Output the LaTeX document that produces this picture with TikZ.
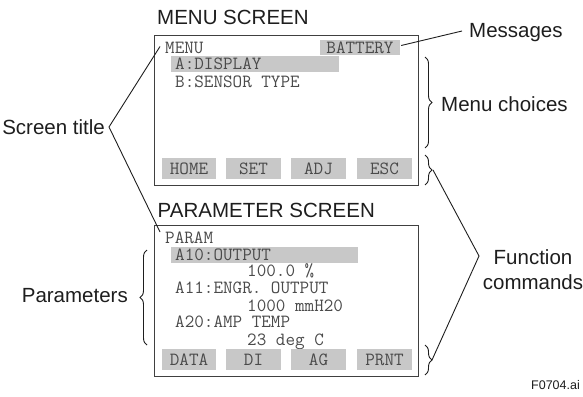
\documentclass[tikz,border=0pt]{standalone}
\usepackage{fontspec}
\setmainfont{Liberation Sans}
\usetikzlibrary{decorations.pathreplacing}
\definecolor{keygray}{HTML}{C8C8C8}
\definecolor{lcdtext}{HTML}{4A4A4A}
\definecolor{ink}{HTML}{1E1E1E}
\begin{document}
\begin{tikzpicture}[x=1pt,y=-1pt,
  lbl/.style={font=\fontsize{20.5}{25}\selectfont, text=ink, inner sep=0pt, text height=14.7pt, text depth=0pt},
  lcdfont/.style={font=\ttfamily\fontsize{18.6}{20}\selectfont, text=lcdtext, text height=11pt, text depth=0pt},
  lcd/.style={lcdfont, inner sep=0pt, anchor=west},
  keybox/.style={lcdfont, fill=keygray, minimum width=54.5pt, minimum height=21pt, inner sep=0pt},
  hilite/.style={lcdfont, fill=keygray, inner xsep=4pt, inner ysep=0pt, minimum height=16pt,
    align=left, anchor=north west},
  screen/.style={draw=ink!85, line width=1.3pt, inner sep=0pt, anchor=north west},
  conn/.style={draw=ink, line width=0.9pt},
  brc/.style={decorate, decoration={brace, amplitude=7pt}, line width=0.9pt, draw=ink}]
\useasboundingbox (0,0) rectangle (583,396);

% ---------- MENU SCREEN ----------
\node[lbl, anchor=west] (menutitle) at (157,17) {MENU SCREEN};
\node[screen, minimum width=264pt, minimum height=150pt] (menuscr) at (154,35) {};
\node[lcdfont, fill=keygray, minimum width=80pt, minimum height=15pt, inner sep=0pt]
      (battery) at (360,47.5) {BATTERY};
\node[lcd] (mmenu) at (165,47.5) {MENU};
\node[hilite, text width=160pt] (mA) at (171,56) {A:DISPLAY};
\node[lcd] (mB) at (175,82) {B:SENSOR TYPE};
\node[keybox] (khome) at (189,168.5) {HOME};
\node[keybox] (kset) at (253.5,168.5) {SET};
\node[keybox] (kadj) at (318.5,168.5) {ADJ};
\node[keybox] (kesc) at (384.5,168.5) {ESC};

% ---------- PARAMETER SCREEN ----------
\node[lbl, anchor=west] (paramtitle) at (157.5,210) {PARAMETER SCREEN};
\node[screen, minimum width=264pt, minimum height=151pt] (paramscr) at (154,225) {};
\node[lcd] (pparam) at (165,238) {PARAM};
\node[hilite, text width=179pt] (pA10) at (171,247) {A10:OUTPUT};
\node[lcd] (pA10v) at (247,271) {100.0 \%};
\node[lcd] (pA11) at (175,288) {A11:ENGR. OUTPUT};
\node[lcd] (pA11v) at (247,306) {1000 mmH20};
\node[lcd] (pA20) at (175,322) {A20:AMP TEMP};
\node[lcd] (pA20v) at (247,340) {23 deg C};
\node[keybox] (kdata) at (189,359.5) {DATA};
\node[keybox] (kdi) at (253.5,359.5) {DI};
\node[keybox] (kag) at (318.5,359.5) {AG};
\node[keybox] (kprnt) at (384.5,359.5) {PRNT};

% ---------- labels ----------
\node[lbl, anchor=east] (stitle) at (105,127) {Screen title};
\node[lbl, anchor=east] (params) at (128,295) {Parameters};
\node[lbl, anchor=west] (msgs) at (469,30) {Messages};
\node[lbl, anchor=west] (mchoice) at (441,104) {Menu choices};
\node[font=\fontsize{20.5}{25}\selectfont, text=ink, inner sep=0pt, align=center] (fcmd) at (533,269.5) {Function\\commands};
\node[font=\fontsize{12.5}{14}\selectfont, text=ink, inner sep=0pt, anchor=east] (fig) at (580,385) {F0704.ai};

% ---------- connectors ----------
\coordinate (stapex) at (109,127);
\draw[conn] ([xshift=-5pt,yshift=1pt]mmenu.west) -- (stapex) -- ([xshift=-5pt,yshift=6pt]pparam.west);
\draw[conn] ([xshift=1pt,yshift=2pt]battery.east) -- ([xshift=-7pt,yshift=-1pt]msgs.west);

% braces
\draw[brc] (425,57) -- (425,148);
\draw[brc] (425,155) -- (425,185);
\draw[brc] (425,345) -- (425,375);
\draw[brc] (147,345) -- (147,250);

\coordinate (fc1) at (433,170);
\coordinate (fc2) at (432,360);
\coordinate (fcapex) at (479,256);
\draw[conn] (fc1) -- (fcapex) -- (fc2);
\end{tikzpicture}
\end{document}
